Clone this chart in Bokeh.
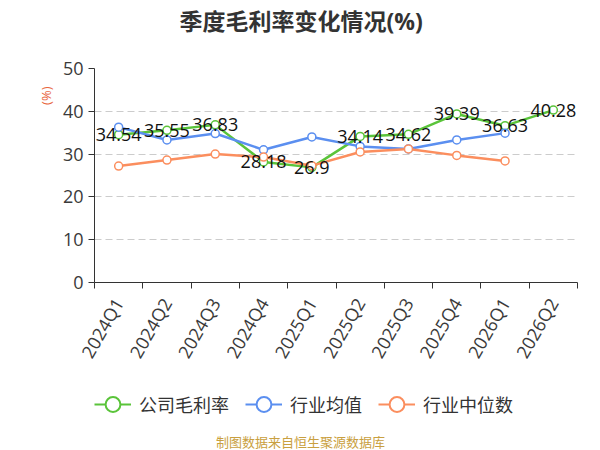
import math
from bokeh.plotting import figure
from bokeh.layouts import column
from bokeh.models import (Range1d, FixedTicker, Title, Legend, LegendItem,
                          ColumnDataSource, LabelSet, Label)
from bokeh.core.properties import value
from bokeh.embed import file_html
from bokeh.resources import INLINE

quarters = ["2024Q1", "2024Q2", "2024Q3", "2024Q4", "2025Q1",
            "2025Q2", "2025Q3", "2025Q4", "2026Q1", "2026Q2"]
company = [34.54, 35.55, 36.83, 28.18, 26.9, 34.14, 34.62, 39.39, 36.63, 40.28]
industry_mean = [36.3, 33.3, 34.8, 31.0, 34.0, 31.8, 31.2, 33.3, 34.9]
industry_median = [27.2, 28.6, 30.0, 29.3, 27.3, 30.5, 31.2, 29.7, 28.4]
series_names = ["公司毛利率", "行业均值", "行业中位数"]
y_ticks = [0, 10, 20, 30, 40, 50]
title_text = "季度毛利率变化情况(%)"
unit_text = "(%)"
source_text = "制图数据来自恒生聚源数据库"

GREEN = "#5ac43a"
BLUE = "#5b8ff0"
ORANGE = "#fb8e5e"
FONT = "Open Sans, Noto Sans CJK SC"
colors = [GREEN, BLUE, ORANGE]

xs = [i + 0.5 for i in range(len(quarters))]

p = figure(frame_width=483, frame_height=214, output_backend="svg", toolbar_location=None,
           x_range=Range1d(0, len(quarters)), y_range=Range1d(0, 50),
           min_border_left=94, min_border_right=23, min_border_top=0,
           min_border_bottom=90)
p.outline_line_color = None
p.background_fill_color = "white"

# axes
p.xaxis.ticker = FixedTicker(ticks=xs, minor_ticks=list(range(len(quarters) + 1)))
p.xaxis.major_label_overrides = {x: q for x, q in zip(xs, quarters)}
p.xaxis.major_tick_out = 0
p.xaxis.major_tick_in = 0
p.xaxis.minor_tick_out = 6
p.xaxis.minor_tick_in = 0
p.xaxis.minor_tick_line_color = "#333333"
p.xaxis.major_label_orientation = math.pi / 3
p.xaxis.major_label_standoff = 11

p.yaxis.ticker = FixedTicker(ticks=y_ticks)
p.yaxis.minor_tick_line_color = None
p.yaxis.major_tick_out = 6
p.yaxis.major_tick_in = 0
p.yaxis.major_label_standoff = 5

for ax in (p.xaxis, p.yaxis):
    ax.axis_line_color = "#333333"
    ax.major_tick_line_color = "#333333"
    ax.major_label_text_font = FONT
    ax.major_label_text_font_size = "18px"
    ax.major_label_text_color = "#3a3a3a"

p.xgrid.grid_line_color = None
p.ygrid.grid_line_color = "#cccccc"
p.ygrid.grid_line_dash = "7 4"
p.ygrid.ticker = FixedTicker(ticks=y_ticks[1:])

# series
for vals, color in zip([company, industry_mean, industry_median], colors):
    src = ColumnDataSource(dict(x=xs[:len(vals)], y=vals))
    p.line("x", "y", source=src, line_color=color, line_width=2.5)
    p.scatter("x", "y", source=src, size=8, marker="circle",
              fill_color="white", line_color=color, line_width=1.5)

lab_src = ColumnDataSource(dict(x=xs, y=company, t=[f"{v:g}" for v in company]))
p.add_layout(LabelSet(x="x", y="y", text="t", source=lab_src,
                      text_align="center", text_baseline="middle",
                      text_font=value(FONT), text_font_size="18px",
                      text_color="#111111"))

# top: spacer then title
p.add_layout(Title(text=" ", standoff=13, text_font_size="10px"), "above")
p.add_layout(Title(text=title_text, align="left", offset=85, standoff=8,
                   vertical_align="top",
                   text_font=FONT, text_font_size="23px", text_font_style="bold",
                   text_color="#333333"), "above")
p.add_layout(Title(text=unit_text, align="right", offset=18, standoff=10,
                   text_font=FONT, text_font_size="13px", text_font_style="normal",
                   text_color="#e8663c"), "left")

# bottom figure: legend + source note (frame aligned with the chart frame)
p2 = figure(width=600, height=79, output_backend="svg", toolbar_location=None,
            x_axis_type=None, y_axis_type=None, x_range=Range1d(0, 1),
            y_range=Range1d(0, 1), min_border=0)
p2.outline_line_color = None
items = []
for name, color in zip(series_names, colors):
    off = dict(x=[-10.0], y=[-10.0])  # off-screen point, only for legend swatches
    l = p2.line(x=off["x"], y=off["y"], line_color=color, line_width=2)
    s = p2.scatter(x=off["x"], y=off["y"], size=14, marker="circle",
                   fill_color="white", line_color=color, line_width=2)
    items.append(LegendItem(label=name, renderers=[l, s]))

legend = Legend(items=items, orientation="horizontal", location=(0, 27),
                glyph_width=37, glyph_height=40, label_standoff=8, spacing=16,
                padding=0, margin=0, border_line_color=None,
                background_fill_alpha=0, label_text_font=FONT,
                label_text_font_size="18px", label_text_color="#333333")
p2.add_layout(legend, "center")
p2.add_layout(Label(x=206, y=10, x_units="screen", y_units="screen",
                    text=source_text, text_align="center", text_baseline="middle",
                    text_font=FONT, text_font_size="13px", text_color="#c9a040"))

open("out.html", "w").write(file_html(column(p, p2, spacing=0), INLINE))
